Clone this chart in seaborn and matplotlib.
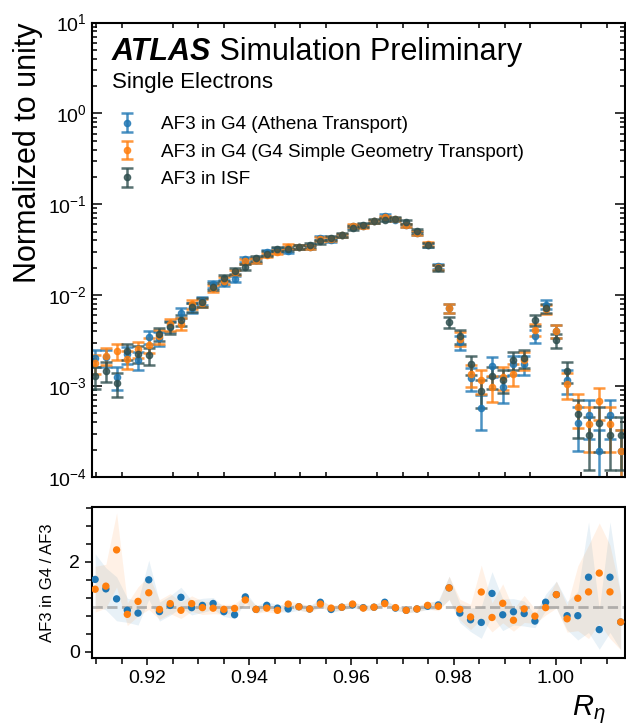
import numpy as np
import pandas as pd
import matplotlib
matplotlib.use("Agg")
import matplotlib.pyplot as plt
import seaborn as sns
from matplotlib.ticker import MultipleLocator, LogLocator, NullFormatter, FixedLocator, FormatStrFormatter
from matplotlib.transforms import offset_copy

# ---------------- data ----------------
bin_edges = np.linspace(0.90876, 1.01376, 51)
r_eta = 0.5 * (bin_edges[:-1] + bin_edges[1:])

isf = [1.28e-3, 1.48e-3, 1.08e-3, 2.42e-3, 2.26e-3, 2.18e-3, 3.76e-3, 4.45e-3, 5.28e-3, 7.41e-3,
       8.41e-3, 1.24e-2, 1.54e-2, 1.85e-2, 2.05e-2, 2.56e-2, 2.87e-2, 3.24e-2, 3.24e-2, 3.41e-2,
       3.59e-2, 3.90e-2, 4.26e-2, 4.59e-2, 5.48e-2, 5.92e-2, 6.56e-2, 6.78e-2, 6.95e-2, 6.39e-2,
       5.08e-2, 3.56e-2, 2.00e-2, 5.06e-3, 3.54e-3, 1.75e-3, 8.73e-4, 1.28e-3, 1.18e-3, 1.96e-3,
       2.04e-3, 5.28e-3, 7.16e-3, 3.18e-3, 1.45e-3, 4.91e-4, 2.90e-4, 3.90e-4, 2.90e-4, 2.90e-4]
isf_err = [3.6e-4, 3.8e-4, 3.3e-4, 4.9e-4, 4.8e-4, 4.7e-4, 6.1e-4, 6.7e-4, 7.3e-4, 8.6e-4,
           9.2e-4, 1.11e-3, 1.24e-3, 1.36e-3, 1.43e-3, 1.60e-3, 1.69e-3, 1.80e-3, 1.80e-3, 1.85e-3,
           1.90e-3, 1.97e-3, 2.06e-3, 2.14e-3, 2.34e-3, 2.43e-3, 2.56e-3, 2.60e-3, 2.64e-3, 2.53e-3,
           2.25e-3, 1.89e-3, 1.41e-3, 7.1e-4, 6.0e-4, 4.2e-4, 3.0e-4, 3.6e-4, 3.4e-4, 4.4e-4,
           4.5e-4, 7.3e-4, 8.5e-4, 5.6e-4, 3.8e-4, 2.2e-4, 1.7e-4, 2.0e-4, 1.7e-4, 1.7e-4]

g4_athena = [2.06e-3, 2.07e-3, 1.27e-3, 2.23e-3, 1.94e-3, 3.49e-3, 3.35e-3, 4.58e-3, 6.39e-3, 7.26e-3,
             8.66e-3, 1.33e-2, 1.37e-2, 1.52e-2, 2.50e-2, 2.41e-2, 2.96e-2, 3.14e-2, 3.08e-2, 3.41e-2,
             3.41e-2, 4.29e-2, 4.00e-2, 4.54e-2, 5.70e-2, 5.80e-2, 6.49e-2, 7.46e-2, 6.74e-2, 5.88e-2,
             4.83e-2, 3.60e-2, 2.08e-2, 7.19e-3, 3.04e-3, 1.24e-3, 5.67e-4, 1.66e-3, 9.68e-4, 1.74e-3,
             1.73e-3, 3.59e-3, 7.88e-3, 4.04e-3, 1.16e-3, 3.93e-4, 4.81e-4, 1.91e-4, 4.81e-4, 1.91e-4]
g4_athena_err = [4.5e-4, 4.5e-4, 3.6e-4, 4.7e-4, 4.4e-4, 5.9e-4, 5.8e-4, 6.8e-4, 8.0e-4, 8.5e-4,
                 9.3e-4, 1.15e-3, 1.17e-3, 1.23e-3, 1.58e-3, 1.55e-3, 1.72e-3, 1.77e-3, 1.75e-3, 1.85e-3,
                 1.85e-3, 2.07e-3, 2.00e-3, 2.13e-3, 2.39e-3, 2.41e-3, 2.55e-3, 2.73e-3, 2.60e-3, 2.42e-3,
                 2.20e-3, 1.90e-3, 1.44e-3, 8.5e-4, 5.5e-4, 3.5e-4, 2.4e-4, 4.1e-4, 3.1e-4, 4.2e-4,
                 4.2e-4, 6.0e-4, 8.9e-4, 6.4e-4, 3.4e-4, 2.0e-4, 2.2e-4, 1.4e-4, 2.2e-4, 1.4e-4]

g4_simple = [1.78e-3, 2.16e-3, 2.45e-3, 2.01e-3, 2.53e-3, 2.86e-3, 3.53e-3, 4.76e-3, 4.86e-3, 7.93e-3,
             8.24e-3, 1.20e-2, 1.45e-2, 1.78e-2, 2.36e-2, 2.41e-2, 2.78e-2, 2.98e-2, 3.43e-2, 3.41e-2,
             3.41e-2, 4.13e-2, 4.13e-2, 4.54e-2, 5.81e-2, 5.74e-2, 6.49e-2, 7.25e-2, 6.81e-2, 5.88e-2,
             4.83e-2, 3.67e-2, 2.02e-2, 7.19e-3, 3.33e-3, 1.35e-3, 1.16e-3, 9.73e-4, 1.27e-3, 1.37e-3,
             1.94e-3, 4.17e-3, 7.02e-3, 4.04e-3, 1.06e-3, 5.84e-4, 3.86e-4, 6.83e-4, 3.86e-4, 1.91e-4]
g4_simple_err = [4.2e-4, 4.6e-4, 4.9e-4, 4.5e-4, 5.0e-4, 5.3e-4, 5.9e-4, 6.9e-4, 7.0e-4, 8.9e-4,
                 9.1e-4, 1.10e-3, 1.20e-3, 1.33e-3, 1.54e-3, 1.55e-3, 1.67e-3, 1.73e-3, 1.85e-3, 1.85e-3,
                 1.85e-3, 2.03e-3, 2.03e-3, 2.13e-3, 2.41e-3, 2.40e-3, 2.55e-3, 2.69e-3, 2.61e-3, 2.42e-3,
                 2.20e-3, 1.92e-3, 1.42e-3, 8.5e-4, 5.8e-4, 3.7e-4, 3.4e-4, 3.1e-4, 3.6e-4, 3.7e-4,
                 4.4e-4, 6.5e-4, 8.4e-4, 6.4e-4, 3.3e-4, 2.4e-4, 2.0e-4, 2.6e-4, 2.0e-4, 1.4e-4]

labels = ["AF3 in G4 (Athena Transport)",
          "AF3 in G4 (G4 Simple Geometry Transport)",
          "AF3 in ISF"]
colors = ["#1f77b4", "#ff7f0e", "#2f4f4f"]

# ---------------- style ----------------
sns.set_theme(style="ticks")
plt.rcParams["font.family"] = ["Liberation Sans", "DejaVu Sans"]
plt.rcParams["mathtext.fontset"] = "custom"
plt.rcParams["mathtext.rm"] = "Liberation Sans"
plt.rcParams["mathtext.it"] = "Liberation Sans:italic"
plt.rcParams["mathtext.bf"] = "Liberation Sans:bold"
plt.rcParams["axes.linewidth"] = 1.5
plt.rcParams["axes.edgecolor"] = "black"
plt.rcParams["text.color"] = "black"
plt.rcParams["axes.labelcolor"] = "black"
plt.rcParams["xtick.color"] = "black"
plt.rcParams["ytick.color"] = "black"

fig = plt.figure(figsize=(6.26, 7.26), dpi=100)
ax = fig.add_axes([0.147, 0.343, 0.851, 0.626])
rax = fig.add_axes([0.147, 0.0933, 0.851, 0.208])

# ---------------- main panel ----------------
series = [(g4_athena, g4_athena_err), (g4_simple, g4_simple_err), (isf, isf_err)]
for (vals, errs), lab, col in zip(series, labels, colors):
    ax.errorbar(r_eta, vals, yerr=errs, fmt="o", ms=4.5, color=col, ecolor=col,
                capsize=4, elinewidth=1.8, capthick=1.8, alpha=0.8, label=lab)

ax.set_yscale("log")
ax.set_ylim(1e-4, 1e1)
xlim = (0.9092, 1.0135)
ax.set_xlim(*xlim)
ax.yaxis.set_major_locator(LogLocator(base=10, numticks=10))
ax.yaxis.set_minor_locator(LogLocator(base=10, subs=np.arange(2, 10), numticks=20))
ax.yaxis.set_minor_formatter(NullFormatter())
ax.xaxis.set_major_locator(MultipleLocator(0.02))
ax.xaxis.set_minor_locator(MultipleLocator(0.005))
ax.tick_params(axis="y", which="both", direction="in", left=True, right=True, labelsize=14, width=1.1)
ax.tick_params(axis="y", which="major", length=7)
ax.tick_params(axis="y", which="minor", length=3.5)
ax.tick_params(axis="x", which="both", direction="in", top=True, bottom=True, labelbottom=False, width=1.1)
ax.tick_params(axis="x", which="major", length=0)
ax.tick_params(axis="x", which="minor", length=3.5)
ax.set_ylabel("Normalized to unity", fontsize=22, loc="top")

t1 = ax.text(0.0375, 0.9175, "ATLAS", transform=ax.transAxes, fontsize=22,
             fontweight="bold", fontstyle="italic", va="baseline")
fig.canvas.draw()
bb = t1.get_window_extent(renderer=fig.canvas.get_renderer())
ax.text(0.0375, 0.9175, " Simulation Preliminary",
        transform=offset_copy(ax.transAxes, fig=fig, x=bb.width, y=0, units="dots"),
        fontsize=22, va="baseline")
ax.text(0.0375, 0.856, "Single Electrons", transform=ax.transAxes, fontsize=16, va="baseline")

ax.legend(loc="upper left", bbox_to_anchor=(0.048, 0.794), frameon=False, fontsize=13.6,
          handlelength=1.0, handletextpad=1.3, labelspacing=0.53, borderpad=0, borderaxespad=0)

# ---------------- ratio panel ----------------
isf_a = np.array(isf)
isf_e = np.array(isf_err)
frames = []
for (vals, errs), lab, col in zip(series[:2], labels[:2], colors[:2]):
    v = np.array(vals)
    e = np.array(errs)
    ratio = v / isf_a
    rel = np.sqrt((e / v) ** 2 + (isf_e / isf_a) ** 2)
    rax.fill_between(r_eta, ratio * (1 - rel), ratio * (1 + rel), color=col, alpha=0.1, lw=0)
    frames.append(pd.DataFrame({"r_eta": r_eta, "ratio": ratio, "sample": lab}))
df = pd.concat(frames, ignore_index=True)
sns.scatterplot(data=df, x="r_eta", y="ratio", hue="sample", palette=colors[:2],
                s=28, linewidth=0, legend=False, ax=rax, zorder=3)
rax.axhline(1.0, color="gray", ls="--", lw=2, alpha=0.55, zorder=2)

rax.set_xlim(*xlim)
rax.set_ylim(-0.15, 3.22)
rax.yaxis.set_major_locator(FixedLocator([0, 2]))
rax.yaxis.set_minor_locator(MultipleLocator(0.4))
rax.xaxis.set_major_locator(MultipleLocator(0.02))
rax.xaxis.set_minor_locator(MultipleLocator(0.005))
rax.xaxis.set_major_formatter(FormatStrFormatter("%.2f"))
rax.tick_params(axis="both", which="both", direction="out", labelsize=14, width=1.1)
rax.tick_params(axis="both", which="major", length=5)
rax.tick_params(axis="both", which="minor", length=4)
rax.set_ylabel("AF3 in G4 / AF3", fontsize=12, labelpad=10)
rax.set_xlabel(r"$R_{\eta}$", fontsize=21)
rax.xaxis.set_label_coords(0.963, -0.235)
rax.xaxis.label.set_ha("right")

fig.savefig("out.png", dpi=100)
